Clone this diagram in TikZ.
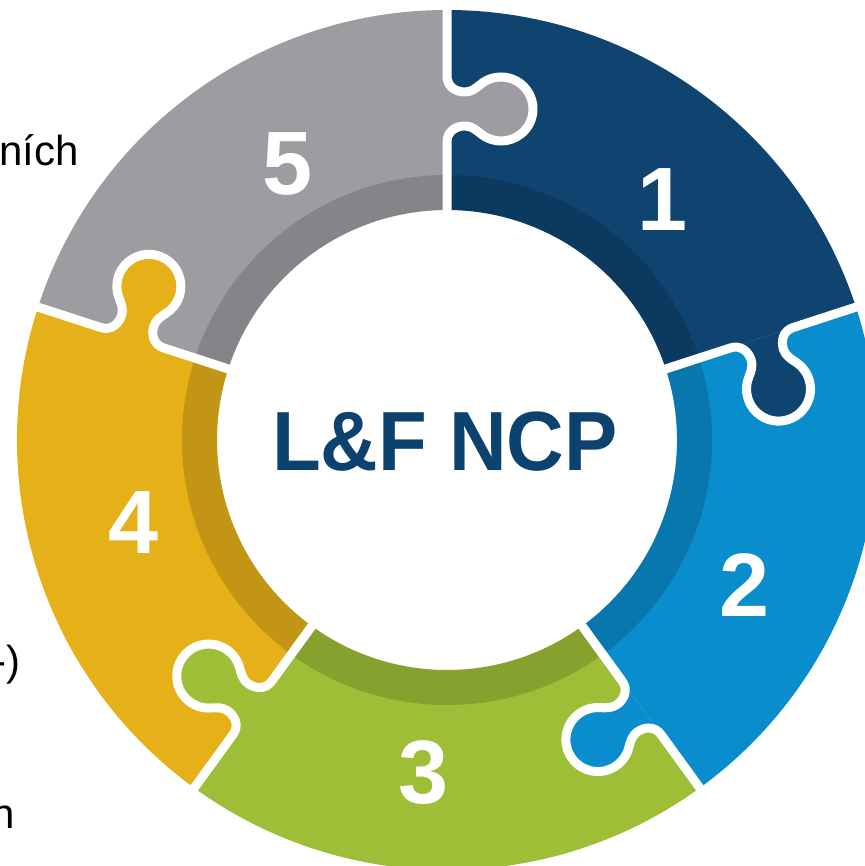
\documentclass[tikz,border=0pt]{standalone}
\usepackage{fontspec}
\setmainfont{Liberation Sans}
\definecolor{cone}{RGB}{15,68,113}
\definecolor{ctwo}{RGB}{10,141,204}
\definecolor{cthree}{RGB}{158,190,55}
\definecolor{cfour}{RGB}{230,176,24}
\definecolor{cfive}{RGB}{156,156,161}
\definecolor{titlenavy}{RGB}{13,65,110}
\tikzset{
  gap/.style={white, line width=9pt, line join=round},
  num/.style={text=white, inner sep=0pt, font=\fontsize{90}{90}\selectfont\bfseries},
  frag/.style={text=black, inner sep=0pt, font=\fontsize{42}{42}\selectfont},
}
\begin{document}
\begin{tikzpicture}[x=1pt,y=1pt]
\useasboundingbox (-447,-426) rectangle (417,440);
% ring sectors
\foreach \a/\b/\col in {90/18/cone, 18/-54/ctwo, -54/-126/cthree, -126/-198/cfour, 162/90/cfive}{
  \fill[\col] (\a:430) arc[start angle=\a, end angle=\b, radius=430] -- (\b:230)
     arc[start angle=\b, end angle=\a, radius=230] -- cycle;
}
% knobs (each piece's tab reaches clockwise into the next piece)
\foreach \ang/\col in {90/cfive, 18/cone, -54/ctwo, -126/cthree, 162/cfour}{
  \begin{scope}[rotate=\ang]
    \fill[\col] (364,0) .. controls (354,0) and (348,-8) .. (348,-18)
      .. controls (348,-24) and (351.65,-28.83) .. (355.51,-33.43)
      arc[start angle=40, end angle=-220, radius=32]
      .. controls (310.35,-28.83) and (314,-24) .. (314,-18)
      .. controls (314,-8) and (308,0) .. (298,0) -- cycle;
  \end{scope}
}
% darker inner band
\fill[black, opacity=.15, even odd rule] (0,0) circle[radius=265] (0,0) circle[radius=230];
% white gaps
\foreach \ang in {90,18,-54,-126,162}{
  \begin{scope}[rotate=\ang]
    \draw[gap] (445,0) -- (364,0) .. controls (354,0) and (348,-8) .. (348,-18)
      .. controls (348,-24) and (351.65,-28.83) .. (355.51,-33.43)
      arc[start angle=40, end angle=-220, radius=32]
      .. controls (310.35,-28.83) and (314,-24) .. (314,-18)
      .. controls (314,-8) and (308,0) .. (298,0) -- (220,0);
  \end{scope}
}
% numbers
\node[num] (n1) at (216,240) {1};
\node[num] (n2) at (298,-145) {2};
\node[num] (n3) at (-23,-333) {3};
\node[num] (n4) at (-313,-83) {4};
\node[num] (n5) at (-159,276) {5};
% title
\node[text=titlenavy, inner sep=0pt, font=\fontsize{84}{84}\selectfont\bfseries] (title) at (-2,-2) {\scalebox{0.95}[1]{L\&F NCP}};
% cut-off text fragments on the left
\node[frag, anchor=base west] (f1) at (-448,274) {ních};
\node[frag, anchor=base west] (f2) at (-455,-235) {-)};
\node[frag, anchor=base west] (f3) at (-456,-388) {n};
\end{tikzpicture}
\end{document}
